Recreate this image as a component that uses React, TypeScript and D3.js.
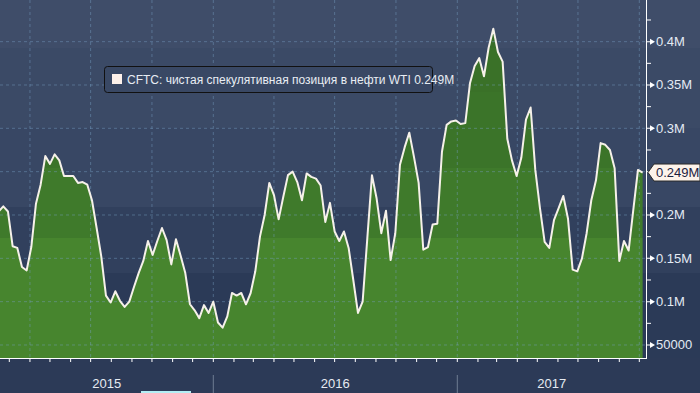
import React from 'react';
import * as d3 from 'd3';

// CFTC net speculative position in WTI, thousands of contracts, weekly (Fridays)
const firstWeek = '2015-02-13';
const netPosition = [
  204, 210, 204, 164, 162, 140, 136, 163, 213, 235, 268,
  259, 270, 263, 245, 245, 245, 237, 238, 235, 217,
  185, 152, 107, 99, 112, 101, 94, 100, 117, 133,
  147, 170, 154, 170, 185, 171, 143, 172, 153, 133,
  97, 90, 81, 96, 87, 100, 76, 70, 83, 110,
  107, 110, 97, 110, 135, 175, 200, 237, 223, 195,
  221, 246, 250, 238, 217, 248, 244, 242, 234, 192,
  214, 181, 170, 181, 162, 125, 87, 100, 173, 246,
  219, 179, 205, 148, 179, 258, 278, 295, 267, 237,
  160, 163, 189, 190, 273, 304, 308, 309, 305, 306,
  352, 372, 381, 360, 393, 415, 388, 377, 288, 263,
  245, 266, 310, 324, 252, 208, 169, 162, 194, 208,
  222, 196, 137, 135, 150, 179, 217, 240, 283, 281,
  275, 254, 147, 170, 159, 206, 252, 249,
];

const yTicks = [50, 100, 150, 200, 250, 300, 350, 400];
// 0.25M sits under the last-value badge, so it has no visible label
const yTickLabels = ['50000', '0.1M', '0.15M', '0.2M', '', '0.3M', '0.35M', '0.4M'];
const yMinorTicks = [75, 125, 175, 225, 275, 325, 375, 425];
const years = ['2015', '2016', '2017'];
const seriesName = 'CFTC: чистая спекулятивная позиция в нефти WTI';
const lastLabel = '0.249M';

const W = 700;
const H = 393;
const plotW = 646;
const plotH = 358;

// background bands, top to bottom
const bgBands = [
  { y0: 0, y1: 48, c: '#3f4d69' },
  { y0: 48, y1: 128, c: '#3b4a66' },
  { y0: 128, y1: 207, c: '#384764' },
  { y0: 207, y1: 273, c: '#31405d' },
  { y0: 273, y1: 358, c: '#2b3a57' },
  { y0: 358, y1: 393, c: '#2c3a57' },
];
const greenBands = [
  { y0: 0, y1: 48, c: '#386e27' },
  { y0: 48, y1: 92, c: '#3a7128' },
  { y0: 92, y1: 168, c: '#3b7429' },
  { y0: 168, y1: 238, c: '#3f7a2b' },
  { y0: 238, y1: 358, c: '#47852e' },
];

export default function App() {
  const start = new Date(firstWeek + 'T00:00:00');
  const data = netPosition.map((v, i) => ({ date: d3.timeDay.offset(start, i * 7), value: v }));

  // year boundaries sit at these pixels in the reference
  const anchor = d3.scaleTime()
    .domain([new Date(2016, 0, 1), new Date(2017, 0, 1)])
    .range([213.3, 457.3]);
  const x = d3.scaleTime().domain([anchor.invert(0), anchor.invert(plotW)]).range([0, plotW]);
  const y = d3.scaleLinear().domain([0, 450]).range([388.33, -1.67]);

  const area = d3.area<any>().x(d => x(d.date)).y0(plotH).y1(d => y(d.value));
  const line = d3.line<any>().x(d => x(d.date)).y(d => y(d.value));

  const monthTicks = x.ticks(d3.timeMonth.every(1));
  const quarterTicks = x.ticks(d3.timeMonth.every(3));
  const yearStarts = x.ticks(d3.timeYear.every(1));
  const yearEdges = [0, ...yearStarts.map(d => x(d)), plotW];

  const last = data[data.length - 1];
  const ly = y(last.value);
  const font = '"Liberation Sans", Arial, sans-serif';

  return (
    <svg width={W} height={H} style={{ position: 'absolute', left: 0, top: 0, display: 'block' }}>
      <defs>
        <clipPath id="plot">
          <rect x={0} y={0} width={plotW} height={plotH} />
        </clipPath>
        <linearGradient id="greenFill" gradientUnits="userSpaceOnUse" x1={0} y1={0} x2={0} y2={plotH}>
          {greenBands.map((b, i) => (
            <React.Fragment key={i}>
              <stop offset={b.y0 / plotH} stopColor={b.c} />
              <stop offset={b.y1 / plotH} stopColor={b.c} />
            </React.Fragment>
          ))}
        </linearGradient>
      </defs>

      {bgBands.map((b, i) => (
        <rect key={i} x={0} y={b.y0} width={W} height={b.y1 - b.y0} fill={b.c} />
      ))}

      <g clipPath="url(#plot)">
        <path d={area(data) || ''} fill="url(#greenFill)" />
        {yTicks.map(t => (
          <line key={t} x1={0} x2={plotW} y1={y(t)} y2={y(t)}
            stroke="rgba(120,160,195,0.45)" strokeDasharray="3,3" />
        ))}
        {quarterTicks.map(t => (
          <line key={+t} x1={x(t)} x2={x(t)} y1={0} y2={plotH}
            stroke="rgba(120,160,195,0.45)" strokeDasharray="3,3" />
        ))}
        <path d={line(data) || ''} fill="none" stroke="#f6f1e9" strokeWidth={2} strokeLinejoin="round" />
      </g>

      {/* right axis */}
      <line x1={plotW + 0.5} x2={plotW + 0.5} y1={0} y2={plotH} stroke="#ffffff" />
      {yMinorTicks.map(t => (
        <line key={t} x1={plotW} x2={plotW + 5} y1={y(t)} y2={y(t)} stroke="#ffffff" />
      ))}
      {yTicks.map((t, i) => (
        <g key={t} transform={`translate(${plotW},${y(t)})`}>
          <path d="M0,-0.5 H4 V-3 L9,0 L4,3 V0.5 H0 Z" fill="#ffffff" />
          {yTickLabels[i] && (
            <text x={10} y={4.5} fill="#e4ebf4" fontSize={13} fontFamily={font}>{yTickLabels[i]}</text>
          )}
        </g>
      ))}

      {/* bottom axis */}
      <line x1={0} x2={plotW + 1} y1={plotH + 0.5} y2={plotH + 0.5} stroke="#ffffff" />
      {monthTicks.map(t => (
        <line key={+t} x1={x(t)} x2={x(t)} y1={plotH} y2={plotH + 4} stroke="#ffffff" />
      ))}
      {yearStarts.map(t => (
        <line key={+t} x1={x(t)} x2={x(t)} y1={375} y2={H} stroke="#6f7c93" />
      ))}
      {years.map((yr, i) => (
        <text key={yr} x={(yearEdges[i] + yearEdges[i + 1]) / 2} y={388} textAnchor="middle"
          fill="#e6ebf2" fontSize={13} fontFamily={font}>{yr}</text>
      ))}
      <rect x={141} y={391} width={50} height={2} fill="#b4eef5" />

      {/* last value badge */}
      <g transform={`translate(${plotW + 2},${ly})`}>
        <path d="M0,0 L6,-8.5 H52 V8.5 H6 Z" fill="#fdf3ea" stroke="#2a2a2a" />
        <text x={8} y={4.5} fill="#1b2140" fontSize={13} fontFamily={font}>{lastLabel}</text>
      </g>

      {/* legend */}
      <g transform="translate(104,66)">
        <rect x={0.5} y={0.5} width={328} height={26} rx={3} fill="#394864" stroke="#111111" />
        <rect x={8} y={8} width={10} height={10} fill="#fdf1ea" />
        <text x={23} y={17.5} fill="#e8edf3" fontSize={12} fontFamily={font}>
          {seriesName} {lastLabel}
        </text>
      </g>
    </svg>
  );
}
